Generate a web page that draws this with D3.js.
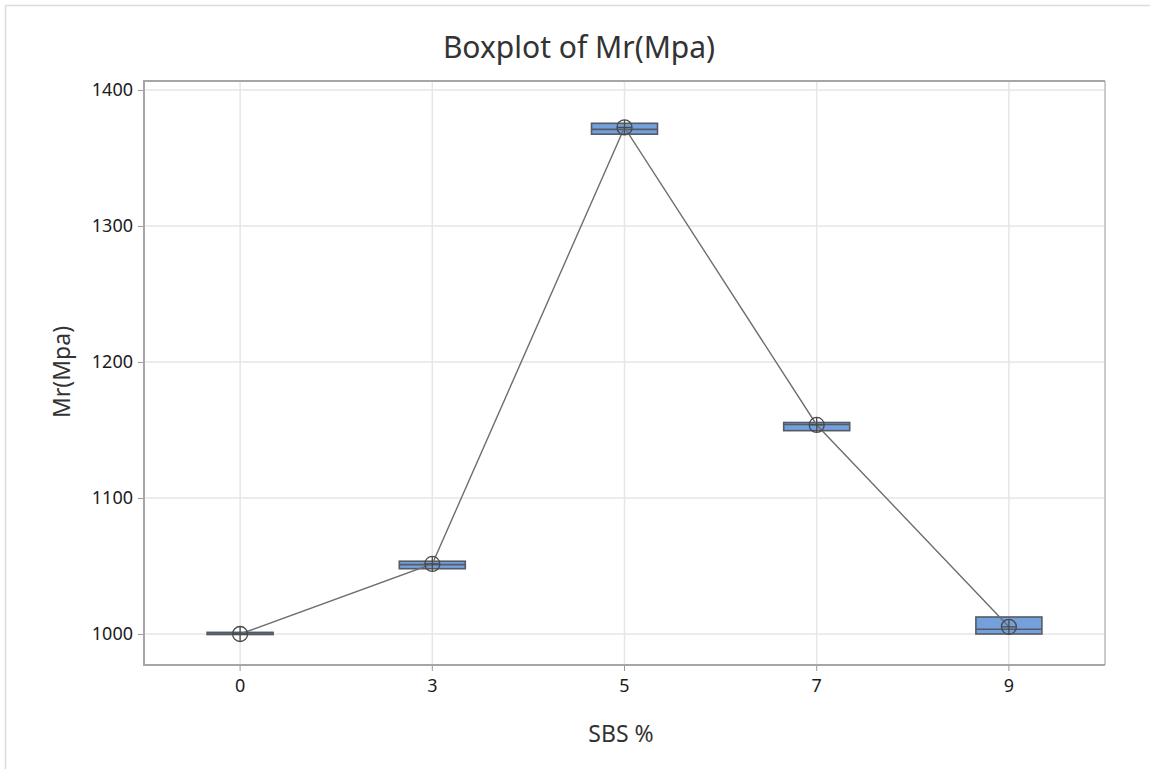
<!DOCTYPE html>
<html>
<head>
<meta charset="utf-8">
<script src="https://cdn.jsdelivr.net/npm/d3@7"></script>
<style>
  body { margin: 0; background: #fff; }
  svg { display: block; font-family: "Noto Sans", "Open Sans", sans-serif; }
</style>
</head>
<body>
<div id="chart"></div>
<script>
// data
var categories = ["0", "3", "5", "7", "9"];
var q1 = [999.6, 1048, 1367.5, 1149.5, 1000];
var median = [1000, 1051, 1371, 1154, 1003.5];
var q3 = [1001.2, 1053.5, 1375.5, 1155.5, 1012.5];
var means = [1000, 1051.5, 1372.5, 1153.7, 1005.3];
var yTicks = [1000, 1100, 1200, 1300, 1400];

var width = 1150, height = 769;
var pLeft = 144, pRight = 1105, pTop = 81, pBottom = 665;

var svg = d3.select("#chart")
  .append("svg")
  .attr("width", width)
  .attr("height", height);

// outer frame (only top and left show)
svg.append("path")
  .attr("d", "M5.5," + height + "V5.5H" + width)
  .attr("fill", "none")
  .attr("stroke", "#dcdcdc")
  .attr("stroke-width", 1.5);

var x = d3.scaleBand().domain(categories).range([pLeft, pRight]).padding(0);
var y = d3.scaleLinear().domain([977.2, 1406.6]).range([pBottom, pTop]);
var boxW = 66;

// grid
svg.append("g")
  .selectAll("line")
  .data(yTicks)
  .join("line")
  .attr("x1", pLeft).attr("x2", pRight)
  .attr("y1", function(d) { return y(d); })
  .attr("y2", function(d) { return y(d); })
  .attr("stroke", "#e6e6e6")
  .attr("stroke-width", 1.5);

svg.append("g")
  .selectAll("line")
  .data(categories)
  .join("line")
  .attr("y1", pTop).attr("y2", pBottom)
  .attr("x1", function(d) { return x(d) + x.bandwidth() / 2; })
  .attr("x2", function(d) { return x(d) + x.bandwidth() / 2; })
  .attr("stroke", "#e6e6e6")
  .attr("stroke-width", 1.5);

// axes
var yAxis = svg.append("g")
  .attr("transform", "translate(" + pLeft + ",0)")
  .call(d3.axisLeft(y).tickValues(yTicks).tickFormat(d3.format("d")).tickSize(6).tickPadding(5));
var xAxis = svg.append("g")
  .attr("transform", "translate(0," + pBottom + ")")
  .call(d3.axisBottom(x).tickSize(6).tickPadding(8));

[yAxis, xAxis].forEach(function(a) {
  a.select(".domain").remove();
  a.attr("font-family", null).attr("font-size", null);
  a.selectAll(".tick line").attr("stroke", "#999");
  a.selectAll(".tick text")
    .attr("fill", "#1a1a1a")
    .style("font-size", "18px");
});

// plot frame
svg.append("path")
  .attr("d", "M" + pRight + "," + pTop + "V" + pBottom)
  .attr("stroke", "#cccccc").attr("stroke-width", 2).attr("fill", "none");
svg.append("path")
  .attr("d", "M" + pRight + "," + pTop + "H" + pLeft + "V" + pBottom + "H" + pRight)
  .attr("stroke", "#a6a6a6").attr("stroke-width", 2).attr("fill", "none");

// boxes
var idx = d3.range(categories.length);
var cx = function(i) { return x(categories[i]) + x.bandwidth() / 2; };

svg.append("g")
  .selectAll("rect")
  .data(idx)
  .join("rect")
  .attr("x", function(i) { return cx(i) - boxW / 2; })
  .attr("width", boxW)
  .attr("y", function(i) { return y(q3[i]); })
  .attr("height", function(i) { return Math.max(0.5, y(q1[i]) - y(q3[i])); })
  .attr("fill", "#74a0dc")
  .attr("stroke", "#555b66")
  .attr("stroke-width", 1.6);

svg.append("g")
  .selectAll("line")
  .data(idx)
  .join("line")
  .attr("x1", function(i) { return cx(i) - boxW / 2; })
  .attr("x2", function(i) { return cx(i) + boxW / 2; })
  .attr("y1", function(i) { return y(median[i]); })
  .attr("y2", function(i) { return y(median[i]); })
  .attr("stroke", "#555b66")
  .attr("stroke-width", 1.6);

// mean connect line
var line = d3.line()
  .x(function(i) { return cx(i); })
  .y(function(i) { return y(means[i]); });

svg.append("path")
  .datum(idx)
  .attr("d", line)
  .attr("fill", "none")
  .attr("stroke", "#6e6e6e")
  .attr("stroke-width", 1.4);

// mean symbols (circle with cross)
var r = 7.5;
var sym = svg.append("g")
  .selectAll("g")
  .data(idx)
  .join("g")
  .attr("transform", function(i) { return "translate(" + cx(i) + "," + y(means[i]) + ")"; })
  .attr("stroke", "#4a4a4a")
  .attr("stroke-width", 1.3)
  .attr("fill", "none");
sym.append("circle").attr("r", r);
sym.append("path").attr("d", "M" + (-r) + ",0H" + r + "M0," + (-r) + "V" + r);

// titles
svg.append("text")
  .attr("x", 579).attr("y", 58)
  .attr("text-anchor", "middle")
  .attr("fill", "#333")
  .style("font-size", "30px")
  .text("Boxplot of Mr(Mpa)");

svg.append("text")
  .attr("x", 621).attr("y", 742)
  .attr("text-anchor", "middle")
  .attr("fill", "#333")
  .style("font-size", "23px")
  .text("SBS %");

svg.append("text")
  .attr("transform", "translate(70,372) rotate(-90)")
  .attr("text-anchor", "middle")
  .attr("fill", "#333")
  .style("font-size", "23px")
  .text("Mr(Mpa)");
</script>
</body>
</html>
